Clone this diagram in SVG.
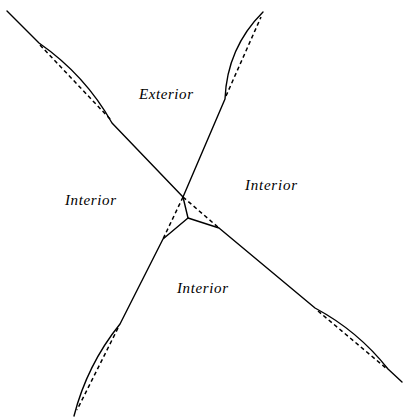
<svg xmlns="http://www.w3.org/2000/svg" width="403" height="417" viewBox="0 0 403 417">
<style>
.s{fill:none;stroke:#000;stroke-width:1.4;stroke-linecap:round;stroke-linejoin:round}
.d{fill:none;stroke:#000;stroke-width:1.5;stroke-dasharray:4,3}
.t{font-family:"Liberation Serif",serif;font-style:italic;font-size:15px;fill:#000}
</style>
<rect width="403" height="417" fill="#fff"/>
<g id="connectors">
<path class="s" d="M7,11 L39,43 Q85,75 112,123 L183,197"/>
<path class="d" d="M40,45 L111,120"/>
<path class="s" d="M183,197 L225,99 Q227,48 263,12"/>
<path class="d" d="M226,96 L261,17"/>
<path class="s" d="M183,197 L188,218 L219,228 L315,308 Q358,331 388,369 L402,382"/>
<path class="d" d="M318,311 L387,369"/>
<path class="s" d="M188,218 L163,239 L120,324 Q87,365 74,416"/>
<path class="d" d="M118,328 L77,410"/>
<path class="d" d="M183,197 L163,239"/>
<path class="d" d="M183,197 L219,228"/>
</g>
<g id="exterior"><text class="t" x="139" y="99" textLength="54" lengthAdjust="spacing">Exterior</text></g>
<g id="interior-left"><text class="t" x="65" y="205" textLength="51" lengthAdjust="spacing">Interior</text></g>
<g id="interior-right"><text class="t" x="245" y="190" textLength="52" lengthAdjust="spacing">Interior</text></g>
<g id="interior-bottom"><text class="t" x="177" y="293" textLength="51" lengthAdjust="spacing">Interior</text></g>
</svg>
